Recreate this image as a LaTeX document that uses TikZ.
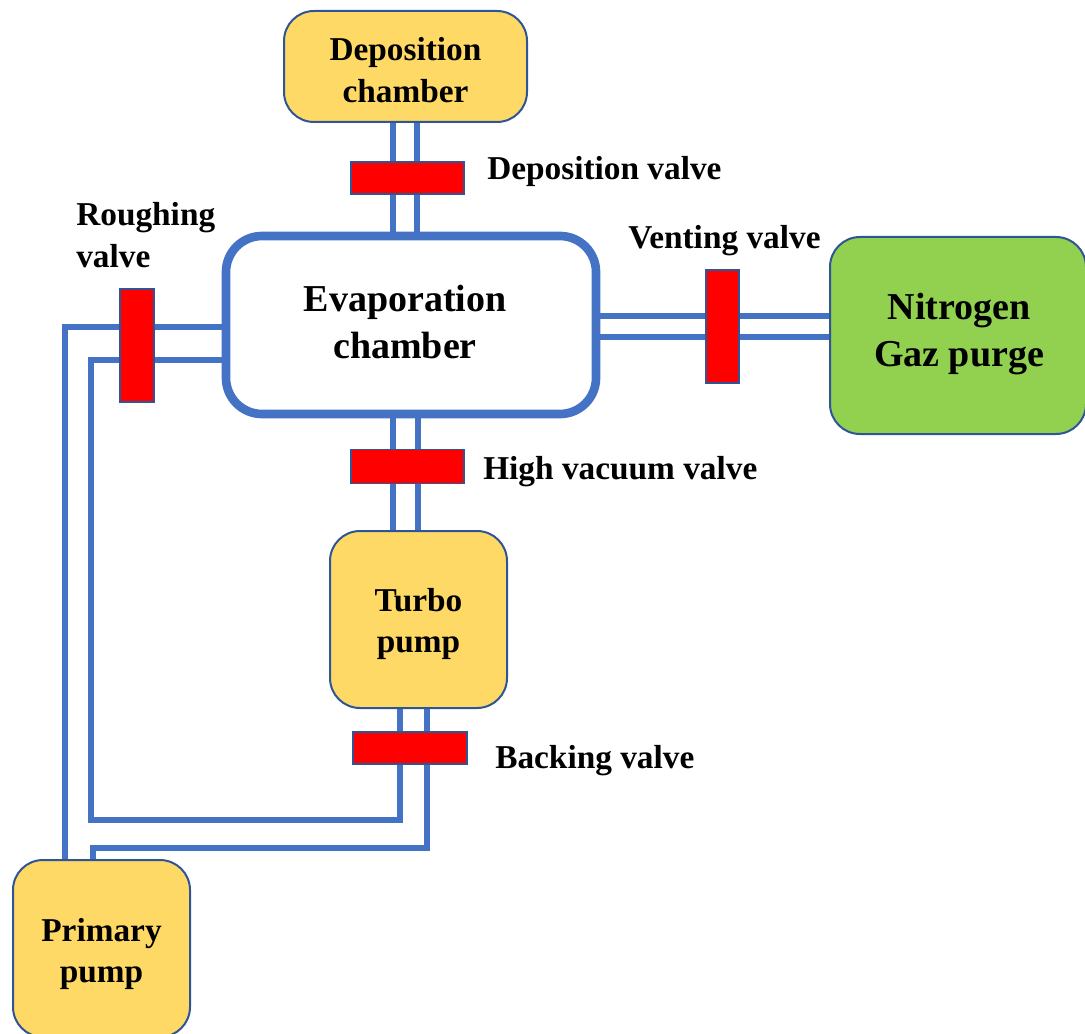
\documentclass[tikz,border=0pt]{standalone}
\usepackage{fontspec}
\setmainfont{Liberation Serif}
\usetikzlibrary{backgrounds}
\definecolor{pipeblue}{HTML}{4472C4}
\definecolor{edgeblue}{HTML}{2F5597}
\definecolor{boxyellow}{HTML}{FFD966}
\definecolor{boxgreen}{HTML}{92D050}
\definecolor{valvered}{HTML}{FF0000}
\begin{document}
\begin{tikzpicture}[x=0.75pt,y=-0.75pt,
  box/.style={draw=edgeblue,line width=1.5pt,rectangle,rounded corners=22.5pt,inner sep=0pt},
  yellowbox/.style={box,fill=boxyellow},
  boxtext/.style={align=center,inner sep=0pt,font=\fontsize{25}{31}\selectfont\bfseries},
  bigtext/.style={align=center,inner sep=0pt,font=\fontsize{28.5}{35}\selectfont\bfseries},
  valve/.style={draw=edgeblue,line width=1.2pt,fill=valvered,rectangle,inner sep=0pt},
  pipe/.style={draw=pipeblue,line width=4.5pt,miter limit=10},
  lbl/.style={anchor=west,inner sep=0pt,align=left,font=\fontsize{25}{31}\selectfont\bfseries}]
\useasboundingbox (0,0) rectangle (1085,1034);
% boxes
\node[yellowbox,minimum width=243*0.75pt,minimum height=111*0.75pt] (dep) at (405.5,66.5) {};
\node[boxtext] (deptext) at (405.5,70) {Deposition\\chamber};
\node[draw=pipeblue,line width=6.5pt,fill=white,rectangle,rounded corners=27pt,inner sep=0pt,
  minimum width=370*0.75pt,minimum height=178*0.75pt] (evap) at (411,325) {};
\node[bigtext] (evaptext) at (405,322) {Evaporation\\chamber};
\node[yellowbox,minimum width=177*0.75pt,minimum height=177*0.75pt] (turbo) at (418.5,619.5) {};
\node[boxtext] (turbotext) at (418.5,624) {Turbo\\pump};
\node[box,fill=boxgreen,minimum width=256*0.75pt,minimum height=197*0.75pt] (n2) at (958,335.5) {};
\node[bigtext] (n2text) at (959,334) {Nitrogen\\Gaz purge};
\node[yellowbox,minimum width=177*0.75pt,minimum height=177*0.75pt] (prim) at (101.5,948.5) {};
\node[boxtext] (primtext) at (101.5,954) {Primary\\pump};
% pipes
\begin{scope}[on background layer]
\draw[pipe] (dep.south -| 393,0) -- (evap.north -| 393,0);
\draw[pipe] (dep.south -| 417,0) -- (evap.north -| 417,0);
\draw[pipe] (evap.south -| 393,0) -- (turbo.north -| 393,0);
\draw[pipe] (evap.south -| 418,0) -- (turbo.north -| 418,0);
\draw[pipe] (evap.east |- 0,316) -- (n2.west |- 0,316);
\draw[pipe] (evap.east |- 0,337) -- (n2.west |- 0,337);
\draw[pipe] (evap.west |- 0,327) -- (65,327) -- (prim.north -| 65,0);
\draw[pipe] (evap.west |- 0,360) -- (91,360) -- (91,820) -- (400,820) -- (turbo.south -| 400,0);
\draw[pipe] (prim.north -| 93,0) -- (93,848) -- (427,848) -- (turbo.south -| 427,0);
\end{scope}
% valves
\node[valve,minimum width=113*0.75pt,minimum height=32*0.75pt] (depvalve) at (407.5,178) {};
\node[valve,minimum width=113*0.75pt,minimum height=34*0.75pt] (hvvalve) at (407.5,466.5) {};
\node[valve,minimum width=114*0.75pt,minimum height=32*0.75pt] (backvalve) at (410,748) {};
\node[valve,minimum width=34*0.75pt,minimum height=113*0.75pt] (roughvalve) at (137,345.5) {};
\node[valve,minimum width=33*0.75pt,minimum height=113*0.75pt] (ventvalve) at (722.5,326.5) {};
% labels
\node[lbl] (depl) at (487,171.5) {Deposition valve};
\node[lbl] (roughl) at (76,235) {Roughing\\valve};
\node[lbl] (ventl) at (628,240.5) {Venting valve};
\node[lbl] (hvl) at (483,471.5) {High vacuum valve};
\node[lbl] (backl) at (495,760.5) {Backing valve};
\end{tikzpicture}
\end{document}
